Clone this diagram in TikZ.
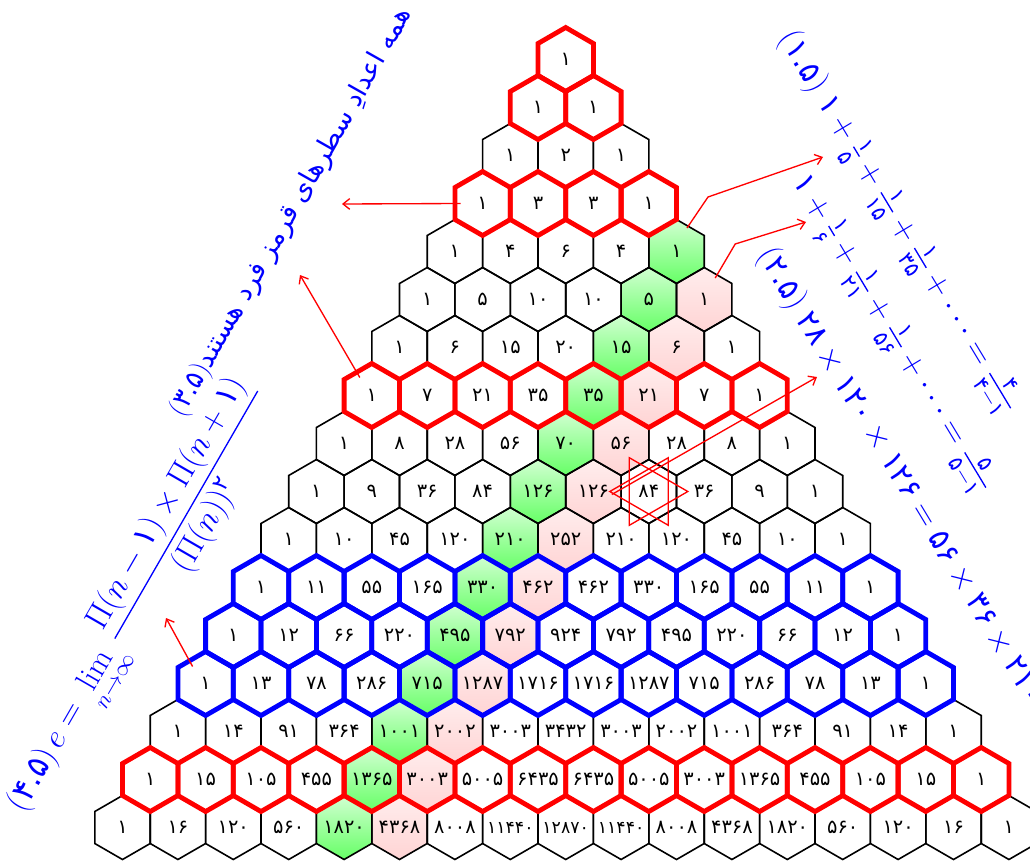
\documentclass[tikz,border=0pt]{standalone}
\usepackage{amsmath}
\usepackage{fontspec}
\newfontfamily\pf[Script=Arabic]{DejaVu Sans}
\TeXXeTstate=1
\usetikzlibrary{arrows.meta}

% persian digits
\newcommand\fa[1]{\text{\pf #1}}
\newcommand\faDigit[1]{\ifcase#1 ۰\or ۱\or ۲\or ۳\or ۴\or ۵\or ۶\or ۷\or ۸\or ۹\fi}
\def\faLoop#1{\ifx\relax#1\else\faDigit{#1}\expandafter\faLoop\fi}

\tikzset{
  cellline/.style={draw=black, line width=1.2pt},
  greencell/.style={top color=green!18, bottom color=green!60},
  pinkcell/.style={top color=red!7, bottom color=red!17},
  plaincell/.style={fill=white},
  redrow/.style={draw=red, line width=3.6pt},
  bluerow/.style={draw=blue, line width=3.6pt},
  num/.style={font=\pf\fontsize{14.5}{15}\selectfont, inner sep=0pt},
  bignum/.style={font=\pf\fontsize{13}{14}\selectfont, inner sep=0pt},
  note/.style={-{Straight Barb[length=5pt,width=8pt]}, draw=red, line width=1pt},
  starline/.style={draw=red, line width=1pt},
  formula/.style={text=blue, font=\fontsize{23}{26}\selectfont, inner sep=0pt},
}
\newcommand\hexcell[1]{(#1) +(0,-32) -- +(27.7,-16) -- +(27.7,16) -- +(0,32) -- +(-27.7,16) -- +(-27.7,-16) -- cycle}

\begin{document}
\begin{tikzpicture}[x=0.75pt, y=-0.75pt]
  \useasboundingbox (0,0) rectangle (1030,863);
  % cells, values and fills
  \foreach \n in {0,...,16}{
    \foreach \k in {0,...,\n}{
      \ifnum\k=0 \xdef\cval{1}\else\xdef\cval{\the\numexpr\cval*(\n-\k+1)/\k\relax}\fi
      \expandafter\xdef\csname pv-\n-\k\endcsname{\cval}
      \coordinate (c-\n-\k) at ({565.7+(\k-\n/2)*55.4}, {59.5+\n*48});
      \def\cellfill{plaincell}
      \ifnum\k=4 \def\cellfill{greencell}\fi
      \ifnum\k=5 \def\cellfill{pinkcell}\fi
      \path[\cellfill] \hexcell{c-\n-\k};
    }
  }
  % thin outlines and numbers
  \foreach \n in {0,...,16}{
    \foreach \k in {0,...,\n}{
      \draw[cellline] \hexcell{c-\n-\k};
      \edef\val{\csname pv-\n-\k\endcsname}
      \def\numstyle{num}
      \ifnum\val>9999 \def\numstyle{bignum}\fi
      \node[\numstyle] (t-\n-\k) at (c-\n-\k) {\expandafter\faLoop\val\relax};
    }
  }
  % odd rows in red, three rows in blue
  \foreach \n/\rowstyle in {0/redrow,1/redrow,3/redrow,7/redrow,15/redrow,11/bluerow,12/bluerow,13/bluerow}{
    \foreach \k in {0,...,\n}{
      \draw[\rowstyle] \hexcell{c-\n-\k};
    }
  }
  % star round 84
  \draw[starline] (c-9-6) +(-39,0) -- +(19.5,-33.8) -- +(19.5,33.8) -- cycle;
  \draw[starline] (c-9-6) +(39,0) -- +(-19.5,-33.8) -- +(-19.5,33.8) -- cycle;

  % texts
  \node[formula, rotate=60.5, anchor=east, font=\fontsize{20}{24}\selectfont] (oddnote) at (406,10)
    {$(\fa{۳.۵})$\pf\beginR همه اعدادِ سطرهای قرمز فرد هستند\endR};
  \node[formula, rotate=60, anchor=west, font=\fontsize{24}{28}\selectfont] (elim) at (16,810)
    {$(\fa{۴.۵})\,e=\lim\limits_{n\to\infty}\dfrac{\Pi(n-\fa{۱})\times\Pi(n+\fa{۱})}{(\Pi(n))^{\fa{۲}}}$};
  \node[formula, rotate=-59, anchor=west] (sumA) at (784,34)
    {$(\fa{۱.۵})\ \fa{۱}+\frac{\fa{۱}}{\fa{۵}}+\frac{\fa{۱}}{\fa{۱۵}}+\frac{\fa{۱}}{\fa{۳۵}}+\cdots=\frac{\fa{۴}}{\fa{۴}-\fa{۱}}$};
  \node[formula, rotate=-59, anchor=west] (sumB) at (798,178)
    {$\fa{۱}+\frac{\fa{۱}}{\fa{۶}}+\frac{\fa{۱}}{\fa{۲۱}}+\frac{\fa{۱}}{\fa{۵۶}}+\cdots=\frac{\fa{۵}}{\fa{۵}-\fa{۱}}$};
  \node[formula, rotate=-59, anchor=west] (prod) at (764,250)
    {$(\fa{۲.۵})\ \fa{۲۸}\times\fa{۱۲۰}\times\fa{۱۲۶}=\fa{۵۶}\times\fa{۳۶}\times\fa{۲۱۰}$};

  % arrows
  \coordinate (tipA) at (342,204);
  \coordinate (tipB) at (300,275);
  \coordinate (tipC) at (166,618);
  \coordinate (tipD) at (823,157);
  \coordinate (tipE) at (806,222);
  \coordinate (tipF) at (817,377);
  \draw[note] ([shift={(-22,0)}]c-3-0) -- (tipA);
  \draw[note] ([shift={(-12,-18)}]c-7-0) -- (tipB);
  \draw[note] ([shift={(-13,-17)}]c-13-0) -- (tipC);
  \draw[note] ([shift={(10.5,-23.5)}]c-4-4) -- ++(21,-31) -- (tipD);
  \draw[note] ([shift={(11,-21.5)}]c-5-5) -- ++(20,-34) -- (tipE);
  \draw[note] ([shift={(-37,3)}]c-9-6) -- (tipF);
\end{tikzpicture}
\end{document}
